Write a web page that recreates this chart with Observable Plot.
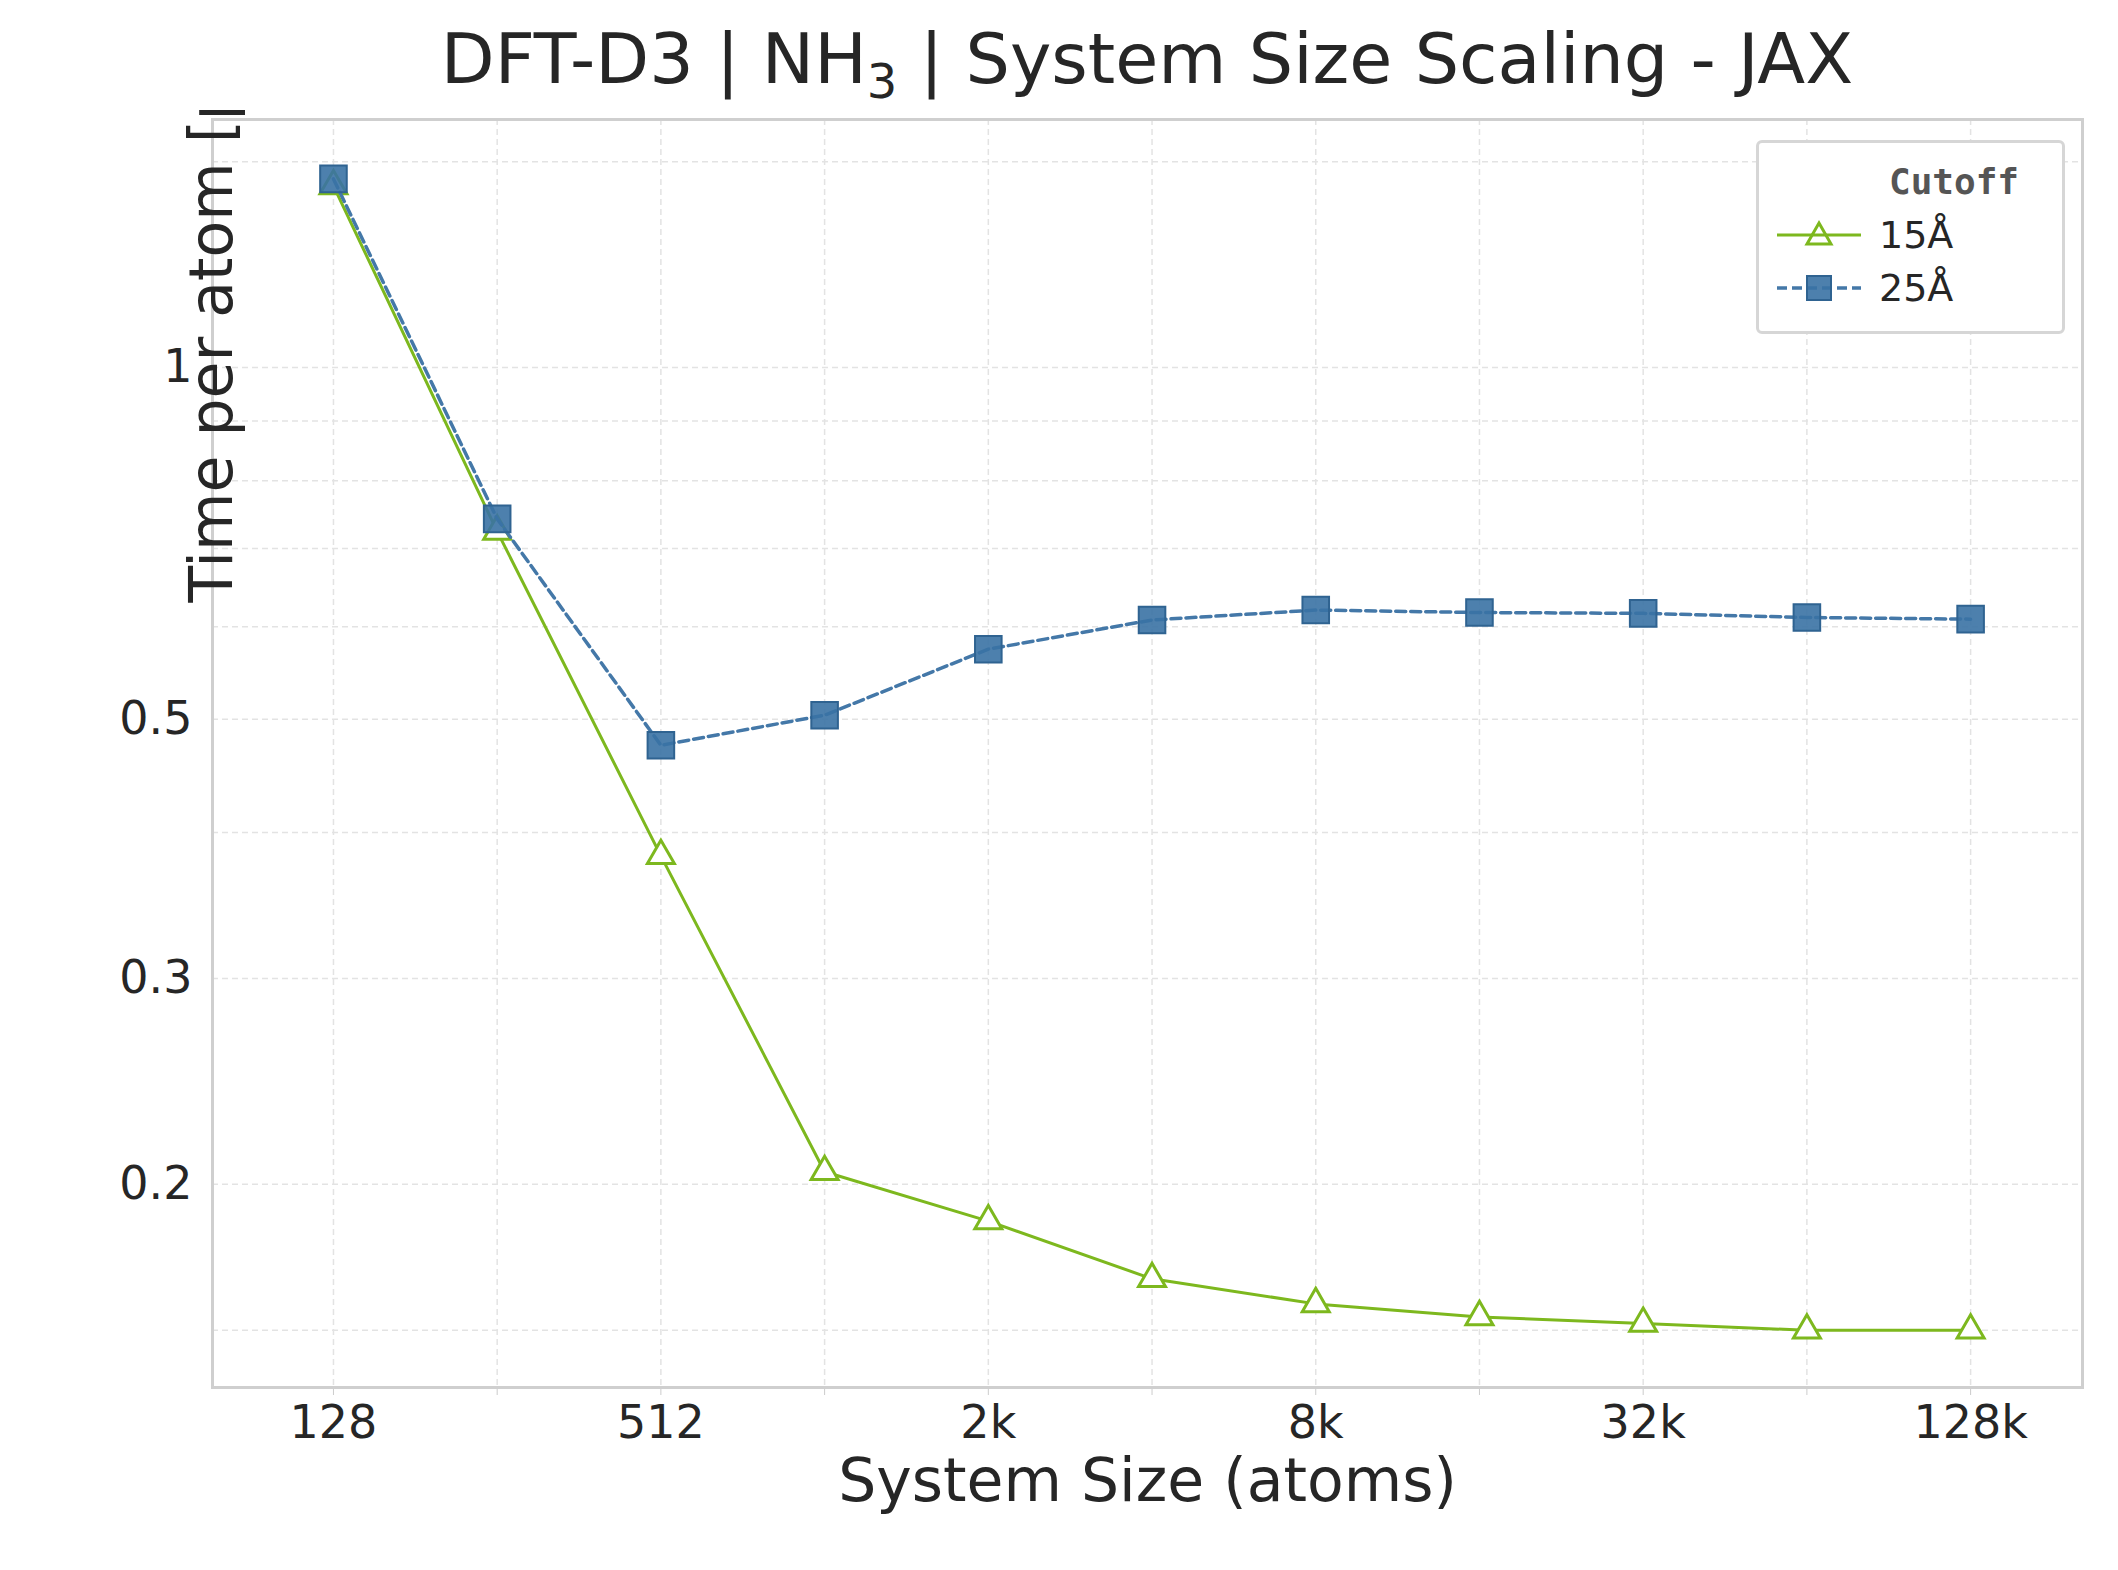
<!DOCTYPE html>
<html><head><meta charset="utf-8">
<script src="https://cdn.jsdelivr.net/npm/d3@7"></script>
<script src="https://cdn.jsdelivr.net/npm/@observablehq/plot@0.6"></script>
<style>
body{margin:0;background:#fff;font-family:"DejaVu Sans",sans-serif;color:#262626;}
#wrap{position:relative;width:2118px;height:1570px;}
#title{position:absolute;top:18px;left:212px;width:1870px;text-align:center;font-size:70px;}
#legend{position:absolute;left:1756px;top:140px;width:303px;height:188px;border:3px solid #d6d6d6;border-radius:6px;background:#fff;font-size:34px;}
#chart{position:absolute;top:110px;left:0;}
</style></head><body>
<div id="wrap">
<div id="title">DFT-D3 | NH<sub style="font-size:48px">3</sub> | System Size Scaling - JAX</div>
<div id="chart"></div>
<div id="legend">
<div style="position:absolute;left:130px;top:18px;font-family:'DejaVu Sans Mono';font-weight:bold;font-size:36px;color:#555">Cutoff</div>
<svg style="position:absolute;left:10px;top:70px" width="290" height="110">
<line x1="8" y1="22" x2="92" y2="22" stroke="#7db81e" stroke-width="3"/>
<path d="M50,10 L62,31 L38,31 Z" fill="none" stroke="#7db81e" stroke-width="3"/>
<text x="110" y="35" font-size="38" fill="#262626">15Å</text>
<line x1="8" y1="75" x2="92" y2="75" stroke="#4478a8" stroke-width="3.5" stroke-dasharray="10,5"/>
<rect x="38" y="63" width="24" height="24" fill="#3a72a4" fill-opacity="0.9" stroke="#2f6391" stroke-width="2"/>
<text x="110" y="88" font-size="38" fill="#262626">25Å</text>
</svg>
</div>
</div>
<script>
const sizes=[128,256,512,1024,2048,4096,8192,16384,32768,65536,131072];
const t15=[1.43,0.724,0.382,0.205,0.186,0.166,0.158,0.154,0.152,0.150,0.150];
const t25=[1.45,0.742,0.475,0.504,0.574,0.608,0.620,0.617,0.616,0.611,0.609];
const xLabels={128:"128",512:"512",2048:"2k",8192:"8k",32768:"32k",131072:"128k"};
const yTicks=[0.2,0.3,0.5,1];
const yGrid=[0.15,0.2,0.3,0.4,0.5,0.6,0.7,0.8,0.9,1,1.5];
const d15=sizes.map((s,i)=>({s,v:t15[i]}));
const d25=sizes.map((s,i)=>({s,v:t25[i]}));
const plot=Plot.plot({
 width:2118,height:1460,
 marginTop:9,marginBottom:183,marginLeft:212,marginRight:36,
 style:{fontFamily:"DejaVu Sans",fontSize:"48px",color:"#262626",background:"#fff"},
 x:{type:"log",base:2,domain:[76.7,210500],label:null},
 y:{type:"log",domain:[0.134,1.63],label:null},
 marks:[
  Plot.ruleY(yGrid,{stroke:"#e3e3e3",strokeWidth:1.5,strokeDasharray:"6,4"}),
  Plot.ruleX(sizes,{stroke:"#e3e3e3",strokeWidth:1.5,strokeDasharray:"6,4"}),
  Plot.axisX({ticks:sizes,tickFormat:d=>xLabels[d]||"",tickSize:8,tickPadding:10,fontSize:46,stroke:"#ccc",label:null}),
  Plot.axisY({ticks:yTicks,tickFormat:d=>String(d),tickSize:0,tickPadding:20,fontSize:46,label:null}),
  Plot.line(d15,{x:"s",y:"v",stroke:"#7db81e",strokeWidth:3}),
  Plot.dot(d15,{x:"s",y:"v",symbol:"triangle",r:10,stroke:"#7db81e",strokeWidth:3,fill:"white"}),
  Plot.line(d25,{x:"s",y:"v",stroke:"#4478a8",strokeWidth:3.5,strokeDasharray:"10,5"}),
  Plot.dot(d25,{x:"s",y:"v",symbol:"square",r:15,fill:"#3a72a4",fillOpacity:0.9,stroke:"#2f6391",strokeWidth:2}),
  Plot.frame({stroke:"#cfcfcf",strokeWidth:3}),
  Plot.text(["System Size (atoms)"],{frameAnchor:"bottom",dy:113,fontSize:60,fill:"#262626"}),
  Plot.text(["Time per atom [µs]"],{frameAnchor:"left",dy:-151,rotate:-90,fontSize:60,fill:"#262626"})
 ]
});
document.getElementById("chart").appendChild(plot);
</script>
</body></html>
